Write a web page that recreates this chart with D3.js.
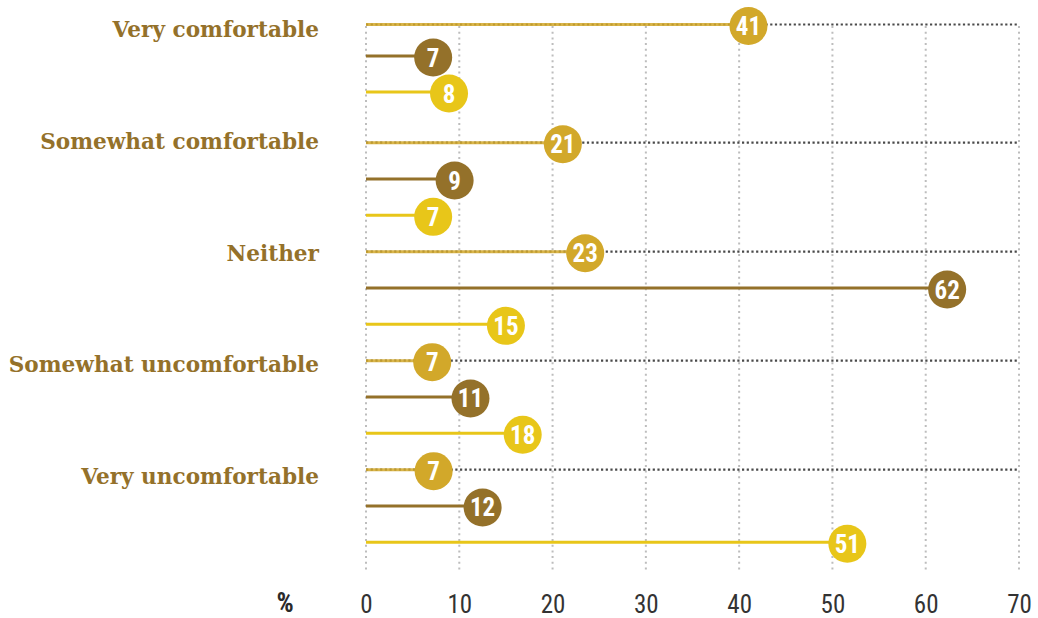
<!DOCTYPE html>
<html>
<head>
<meta charset="utf-8">
<script src="https://cdn.jsdelivr.net/npm/d3@7"></script>
<style>
  html, body { margin: 0; padding: 0; background: #fff; }
  svg { display: block; }
</style>
</head>
<body>
<svg id="chart" width="1038" height="618"></svg>
<script>
const categories = ["Very comfortable", "Somewhat comfortable", "Neither", "Somewhat uncomfortable", "Very uncomfortable"];
const seriesNames = ["A", "B", "C"];
// printed values (labels in the circles)
const seriesALabels = [41, 21, 23, 7, 7];
const seriesBLabels = [7, 9, 62, 11, 12];
const seriesCLabels = [8, 7, 15, 18, 51];
// plotted positions
const seriesA = [41, 21.1, 23.5, 7.1, 7.25];
const seriesB = [7.2, 9.5, 62.3, 11.2, 12.5];
const seriesC = [8.9, 7.2, 15, 16.8, 51.6];
const tickValues = [0, 10, 20, 30, 40, 50, 60, 70];
const axisUnit = "%";

const colors = { A: "#D2A82A", B: "#94712A", C: "#E8C619" };
const labelColor = "#94712A";

const svg = d3.select("#chart");

const x = d3.scaleLinear().domain([0, 70]).range([366, 1019]);
// row index -> y (first group rows are slightly tighter in the reference)
const y = d3.scaleLinear().domain([0, 1, 2, 3, 14]).range([24.5, 56, 92, 142.7, 542.3]);
const labelY = d3.scalePoint().domain(categories).range([37, 484]);

const values = [seriesA, seriesB, seriesC];
const labels = [seriesALabels, seriesBLabels, seriesCLabels];
const rows = [];
categories.forEach((c, i) => {
  values.forEach((arr, j) => {
    rows.push({ cat: c, series: seriesNames[j], value: arr[i], label: labels[j][i], idx: i * 3 + j, first: j === 0 });
  });
});

// vertical dotted gridlines
svg.append("g")
  .selectAll("line")
  .data(tickValues)
  .join("line")
  .attr("x1", d => x(d)).attr("x2", d => x(d))
  .attr("y1", 26).attr("y2", 570)
  .attr("stroke", "#bdbdbd")
  .attr("stroke-width", 2)
  .attr("stroke-dasharray", "2,3.7");

// dotted reference lines for first row of each group
svg.append("g")
  .selectAll("line")
  .data(rows.filter(r => r.first))
  .join("line")
  .attr("x1", x(0)).attr("x2", x(70))
  .attr("y1", d => y(d.idx)).attr("y2", d => y(d.idx))
  .attr("stroke", "#4a4a4a")
  .attr("stroke-width", 2.2)
  .attr("stroke-dasharray", "2.2,2.5");

// stems
svg.append("g")
  .selectAll("line")
  .data(rows)
  .join("line")
  .attr("x1", x(0)).attr("x2", d => x(d.value))
  .attr("y1", d => y(d.idx)).attr("y2", d => y(d.idx))
  .attr("stroke", d => colors[d.series])
  .attr("stroke-opacity", d => d.first ? 0.85 : 1)
  .attr("stroke-width", 3);

// circles
const dots = svg.append("g")
  .selectAll("g")
  .data(rows)
  .join("g")
  .attr("transform", d => `translate(${x(d.value)},${y(d.idx) + 1.5})`);

dots.append("circle")
  .attr("r", 19)
  .attr("fill", d => colors[d.series]);

dots.append("text")
  .attr("text-anchor", "middle")
  .attr("dy", "0.36em")
  .attr("fill", "#fff")
  .style("font-family", "'Liberation Sans Narrow', 'Roboto Condensed', 'Open Sans', sans-serif")
  .style("font-stretch", "condensed")
  .style("font-weight", "bold")
  .style("font-size", "25px")
  .text(d => d.label);

// category labels
svg.append("g")
  .selectAll("text")
  .data(categories)
  .join("text")
  .attr("x", 319)
  .attr("y", d => labelY(d))
  .attr("text-anchor", "end")
  .attr("fill", labelColor)
  .style("font-family", "'DejaVu Serif', serif")
  .style("font-weight", "bold")
  .style("font-size", "21.6px")
  .text(d => d);

// x axis tick labels
const axis = d3.axisBottom(x).tickValues(tickValues).tickSize(0).tickPadding(0);
const axisG = svg.append("g")
  .attr("transform", "translate(0,595)")
  .call(axis);
axisG.select(".domain").remove();
axisG.selectAll("text")
  .attr("dy", "0.71em")
  .attr("fill", "#333")
  .style("font-family", "'Liberation Sans Narrow', 'Roboto Condensed', sans-serif")
  .style("font-stretch", "condensed")
  .style("font-size", "25px");

svg.append("text")
  .attr("x", 285)
  .attr("y", 612)
  .attr("text-anchor", "middle")
  .attr("fill", "#2a2a2a")
  .style("font-family", "'Liberation Sans Narrow', 'Roboto Condensed', sans-serif")
  .style("font-weight", "bold")
  .style("font-size", "27px")
  .text(axisUnit);
</script>
</body>
</html>
